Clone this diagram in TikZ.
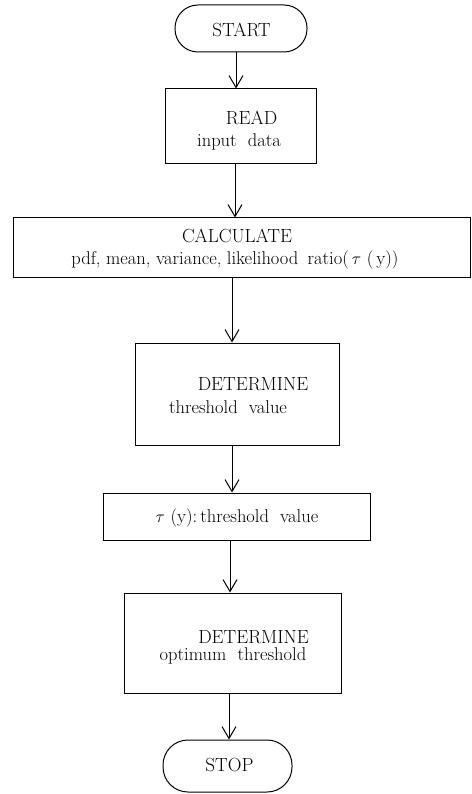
\documentclass[tikz,border=0pt]{standalone}
\usepackage{fontspec}
\usetikzlibrary{arrows.meta}
\newcommand\capsf{\fontsize{19}{22}\selectfont\addfontfeatures{LetterSpace=9,FakeBold=0.3}}
\newcommand\lowf{\fontsize{18.5}{21}\selectfont\addfontfeatures{FakeBold=0.8}}
\begin{document}
\begin{tikzpicture}[x=1pt,y=-1pt,
  box/.style={draw,line width=1pt,inner sep=0pt},
  term/.style={box,rounded corners=#1},
  captxt/.style={anchor=base,inner sep=0pt,font=\capsf},
  lowtxt/.style={anchor=base,inner sep=0pt,font=\lowf},
  arr/.style={line width=1pt,-{Straight Barb[length=12pt,width=14pt]}}]
\useasboundingbox (0,0) rectangle (471,794);
% boxes
\node[term=23pt,minimum width=132pt,minimum height=47pt] (start) at (241,28.5) {};
\node[box,minimum width=151pt,minimum height=75pt] (read) at (240.5,126.5) {};
\node[box,minimum width=457pt,minimum height=59pt] (calc) at (241.5,247.5) {};
\node[box,minimum width=204pt,minimum height=102pt] (det1) at (237,394) {};
\node[box,minimum width=267pt,minimum height=47pt] (tau) at (236.5,516.5) {};
\node[box,minimum width=217pt,minimum height=100pt] (det2) at (232.5,643) {};
\node[term=25pt,minimum width=129pt,minimum height=52pt] (stop) at (227.5,766) {};
% texts
\node[captxt] (tstart) at (241.5,36.7) {START};
\node[captxt] (tread) at (251.5,125) {READ};
\node[lowtxt] (tinput) at (239,146.5) {input\hspace{0.3em} data};
\node[captxt] (tcalc) at (237,243) {CALCULATE};
\node[lowtxt] (tpdf) at (235,264) {pdf, mean, variance, likelihood\hspace{0.2em} ratio(\,$\tau$\ (\,y))};
\node[captxt] (tdet1) at (253,390.5) {DETERMINE};
\node[lowtxt] (tthr) at (228,413) {threshold\hspace{0.3em} value};
\node[lowtxt] (ttau) at (237,522) {$\tau$ (y):\,threshold\hspace{0.3em} value};
\node[captxt] (tdet2) at (253.5,643) {DETERMINE};
\node[lowtxt] (topt) at (233,660) {optimum\hspace{0.3em} threshold};
\node[captxt] (tstop) at (229.5,771.5) {STOP};
% connectors
\draw[arr] ([xshift=-5]start.south) -- ([xshift=-4.5]read.north);
\draw[arr] ([xshift=-5.5]read.south) -- ([xshift=-6.5]calc.north);
\draw[arr] ([xshift=-9.5]calc.south) -- ([xshift=-5]det1.north);
\draw[arr] ([xshift=-5]det1.south) -- ([xshift=-4.5]tau.north);
\draw[arr] ([xshift=-6.5]tau.south) -- ([xshift=-2.5]det2.north);
\draw[arr] ([xshift=-3.5]det2.south) -- ([xshift=1.5]stop.north);
\end{tikzpicture}
\end{document}
